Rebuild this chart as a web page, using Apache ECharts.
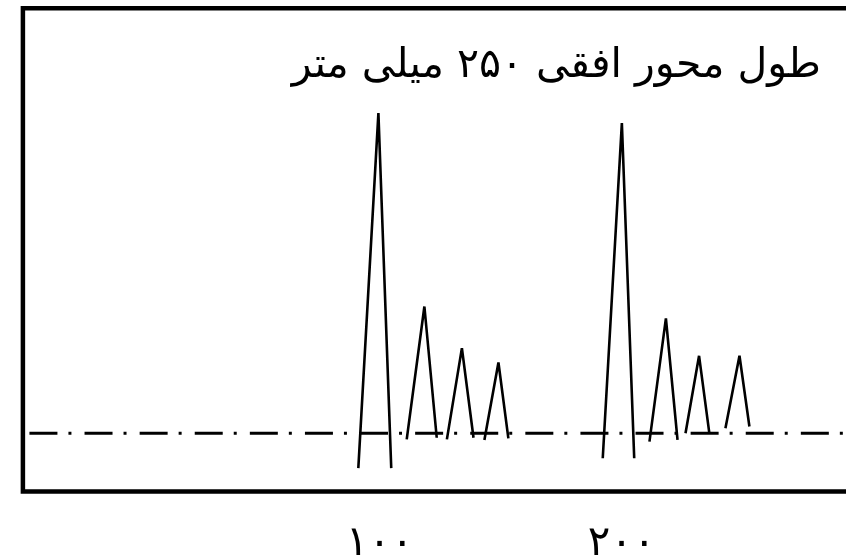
<!DOCTYPE html>
<html>
<head>
<meta charset="utf-8">
<script src="https://cdn.jsdelivr.net/npm/echarts@6/dist/echarts.min.js"></script>
<style>
  html, body { margin: 0; padding: 0; background: #ffffff; }
  #chart { width: 846px; height: 558px; }
</style>
</head>
<body>
<div id="chart"></div>
<script>
// Position along the horizontal axis (mm) of each peak: left foot, apex, right foot
const peakX = [
  [91.2, 99.5, 104.8],
  [111.2, 118.5, 123.6],
  [127.8, 134.0, 138.8],
  [143.3, 149.1, 153.2],
  [192.2, 200.1, 205.2],
  [211.5, 218.3, 223.1],
  [226.4, 232.0, 236.2],
  [242.9, 248.7, 252.8]
];
// Relative amplitude of each peak at the same three points
const peakY = [
  [-10.9, 100.0, -10.9],
  [-1.9, 39.6, -1.4],
  [-1.9, 26.6, -1.4],
  [-2.1, 22.1, -1.6],
  [-7.8, 96.9, -7.8],
  [-2.6, 35.9, -2.1],
  [0.0, 24.2, 0.3],
  [1.6, 24.2, 2.1]
];
// Reference (zero) line
const baselineX = [-44.7, 300];
const baselineY = [0, 0];
// Axis labels
const tickValues = [100, 200];
const tickLabels = ['۱۰۰', '۲۰۰'];
const titleText = 'طول محور افقی ۲۵۰ میلی متر';

const xMin = -47.4, xMax = 296.6;
const yMin = -18.19, yMax = 132.75;

const peakSeries = peakX.map(function (xs, i) {
  return {
    type: 'line',
    data: xs.map(function (x, j) { return [x, peakY[i][j]]; }),
    symbol: 'none',
    silent: true,
    z: 3,
    lineStyle: { color: '#000', width: 2.6, join: 'bevel', cap: 'butt' }
  };
});

const chart = echarts.init(document.getElementById('chart'), null, { renderer: 'canvas' });
chart.setOption({
  animation: false,
  backgroundColor: '#ffffff',
  title: {
    text: titleText,
    right: 20,
    top: 41,
    textStyle: {
      fontFamily: 'DejaVu Sans',
      fontSize: 41,
      fontWeight: 'normal',
      color: '#000'
    }
  },
  grid: {
    left: 22.9,
    top: 8.3,
    width: 832.5,
    height: 483.2,
    show: true,
    borderColor: '#000',
    borderWidth: 4.5,
    backgroundColor: 'transparent',
    outerBoundsMode: 'none',
    containLabel: false
  },
  xAxis: {
    type: 'value',
    min: xMin,
    max: xMax,
    axisLine: { show: false },
    axisTick: { show: false },
    splitLine: { show: false },
    axisLabel: {
      customValues: tickValues,
      formatter: function (v) {
        const k = tickValues.indexOf(v);
        return k >= 0 ? tickLabels[k] : '';
      },
      margin: 32,
      fontFamily: 'DejaVu Sans',
      fontSize: 42,
      color: '#000'
    }
  },
  yAxis: {
    type: 'value',
    min: yMin,
    max: yMax,
    show: false,
    splitLine: { show: false }
  },
  series: [
    {
      type: 'line',
      data: baselineX.map(function (x, j) { return [x, baselineY[j]]; }),
      symbol: 'none',
      silent: true,
      z: 2,
      lineStyle: { color: '#000', width: 3, type: [28, 11, 3, 13.1], cap: 'butt' }
    }
  ].concat(peakSeries)
});
</script>
</body>
</html>
